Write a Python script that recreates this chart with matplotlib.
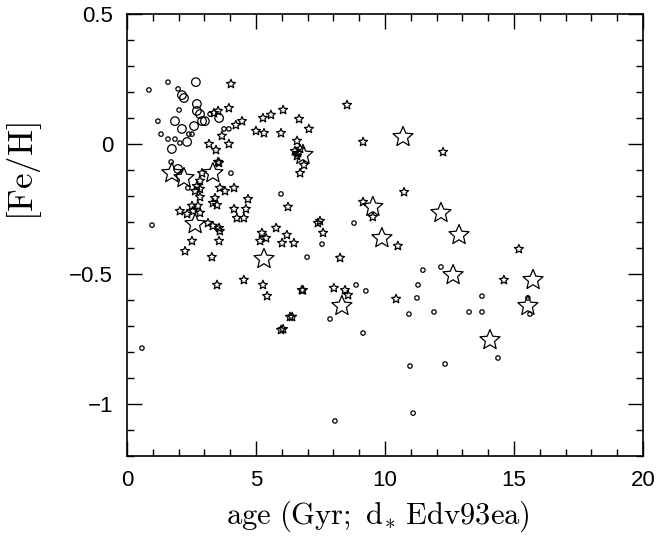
import matplotlib
matplotlib.use("Agg")
import matplotlib.pyplot as plt
from matplotlib.ticker import MultipleLocator
from matplotlib.path import Path
import numpy as np

plt.rcParams['mathtext.fontset'] = 'cm'
plt.rcParams['font.family'] = ['Liberation Sans', 'DejaVu Sans']

# small circles
sc_age = [0.85, 1.59, 1.98, 2.02, 1.20, 1.32, 1.59, 1.86, 2.05, 1.71, 2.36, 3.22,
          3.76, 3.95, 4.03, 5.97, 2.40, 2.52, 0.97, 0.58, 8.80, 7.56, 6.98, 8.88,
          9.26, 7.87, 9.15, 11.47, 12.17, 11.28, 11.24, 10.93, 11.90, 13.26, 13.76,
          13.76, 15.54, 15.62, 14.38, 10.97, 12.33, 11.09, 8.06]
sc_feh = [0.208, 0.238, 0.212, 0.131, 0.088, 0.038, 0.019, 0.019, 0.004, -0.069,
          -0.169, 0.115, 0.058, 0.058, -0.112, -0.192, 0.038, 0.038, -0.312, -0.785,
          -0.304, -0.385, -0.435, -0.542, -0.565, -0.673, -0.727, -0.485, -0.473,
          -0.542, -0.592, -0.654, -0.646, -0.646, -0.646, -0.585, -0.592, -0.654,
          -0.823, -0.854, -0.846, -1.035, -1.065]

# larger circles
lc_age = [2.67, 2.13, 2.21, 2.71, 2.71, 2.83, 2.91, 3.02, 2.60, 1.86, 2.13, 2.33,
          1.74, 3.57, 1.98]
lc_feh = [0.238, 0.188, 0.177, 0.154, 0.127, 0.115, 0.088, 0.088, 0.069, 0.088,
          0.058, 0.008, -0.019, 0.100, -0.096]

# small stars
ss_age = [4.03, 3.95, 3.53, 3.37, 4.46, 4.22, 3.68, 3.18, 3.45, 3.95, 3.57, 5.27,
          5.58, 6.05, 6.67, 7.05, 5.00, 5.31, 5.97, 6.59, 6.51, 6.63, 6.59, 6.71,
          6.86, 6.71, 8.53, 9.15, 12.25, 10.74, 9.15, 9.53, 6.24, 7.40, 7.48, 7.60,
          6.20, 6.47, 6.01, 10.50, 8.26, 6.82, 8.02, 8.45, 8.57, 10.43, 6.40, 6.05,
          14.61, 15.19,
          2.91, 2.83, 2.71, 2.83, 2.64, 3.60, 3.80, 4.15, 4.69, 2.83, 3.41, 3.33,
          3.49, 2.75, 2.52, 2.56, 2.05, 2.33, 2.83, 3.14, 3.33, 3.57, 3.60, 2.52,
          3.57, 2.25, 3.29, 4.15, 4.61, 4.26, 4.53, 5.78, 5.23, 5.16, 5.39, 3.49,
          4.53, 5.27, 5.43, 6.78, 6.32, 5.97, 3.53]
ss_feh = [0.231, 0.138, 0.127, 0.119, 0.088, 0.073, 0.031, 0.0, -0.023, 0.0, -0.073,
          0.100, 0.112, 0.131, 0.096, 0.058, 0.050, 0.042, 0.042, 0.012, -0.027,
          -0.035, -0.046, -0.019, -0.081, -0.112, 0.150, 0.008, -0.031, -0.185,
          -0.223, -0.281, -0.242, -0.304, -0.296, -0.342, -0.350, -0.381, -0.381,
          -0.392, -0.438, -0.562, -0.554, -0.562, -0.581, -0.596, -0.665, -0.712,
          -0.523, -0.404,
          -0.112, -0.142, -0.162, -0.173, -0.181, -0.169, -0.181, -0.169, -0.212,
          -0.204, -0.208, -0.227, -0.235, -0.238, -0.238, -0.258, -0.258, -0.269,
          -0.265, -0.304, -0.315, -0.323, -0.335, -0.373, -0.373, -0.412, -0.435,
          -0.250, -0.250, -0.285, -0.285, -0.323, -0.342, -0.373, -0.362, -0.542,
          -0.523, -0.542, -0.585, -0.562, -0.665, -0.715, -0.069]

# large stars
ls_age = [1.74, 2.21, 3.33, 2.64, 5.31, 6.82, 10.70, 9.53, 12.17, 9.88, 12.87,
          12.64, 8.33, 15.74, 15.54, 14.07]
ls_feh = [-0.112, -0.131, -0.112, -0.308, -0.442, -0.042, 0.027, -0.242, -0.265,
          -0.362, -0.350, -0.504, -0.623, -0.523, -0.623, -0.754]

# five-point star with a fatter body than the built-in '*'
ang = np.pi / 2 + np.arange(10) * np.pi / 5
rad = np.where(np.arange(10) % 2 == 0, 1.0, 0.45)
verts = np.column_stack([rad * np.cos(ang), rad * np.sin(ang)])
star = Path(np.vstack([verts, verts[:1]]), closed=True)

fig = plt.figure(figsize=(6.6, 5.37), dpi=100)
ax = fig.add_axes([0.1924, 0.1508, 0.7818, 0.8231])

kw = dict(facecolor='none', edgecolor='black', linewidths=0.9)
ax.scatter(sc_age, sc_feh, s=10, marker='o', **kw)
ax.scatter(lc_age, lc_feh, s=38, marker='o', **kw)
ax.scatter(ss_age, ss_feh, s=45, marker=star, **kw)
ax.scatter(ls_age, ls_feh, s=230, marker=star, **kw)

ax.set_xlim(0, 20)
ax.set_ylim(-1.2, 0.5)
ax.xaxis.set_major_locator(MultipleLocator(5))
ax.xaxis.set_minor_locator(MultipleLocator(1))
ax.yaxis.set_major_locator(MultipleLocator(0.5))
ax.yaxis.set_minor_locator(MultipleLocator(0.1))
ax.set_yticks([-1, -0.5, 0, 0.5])
ax.set_yticklabels(['\u22121', '\u22120.5', '0', '0.5'])
ax.tick_params(which='both', direction='in', top=True, right=True,
               labelsize=16, width=1.0)
ax.tick_params(which='major', length=11, pad=10)
ax.tick_params(which='minor', length=5)
for sp in ax.spines.values():
    sp.set_linewidth(1.2)

ax.set_xlabel(r'$\mathrm{age\ (Gyr;\ d_{*}\ Edv93ea)}$', fontsize=22)
ax.xaxis.set_label_coords(0.486, -0.097)
ax.set_ylabel(r'$\mathrm{[Fe/H]}$', fontsize=25)
ax.yaxis.set_label_coords(-0.16, 0.643)

fig.savefig('out.png', dpi=100)
